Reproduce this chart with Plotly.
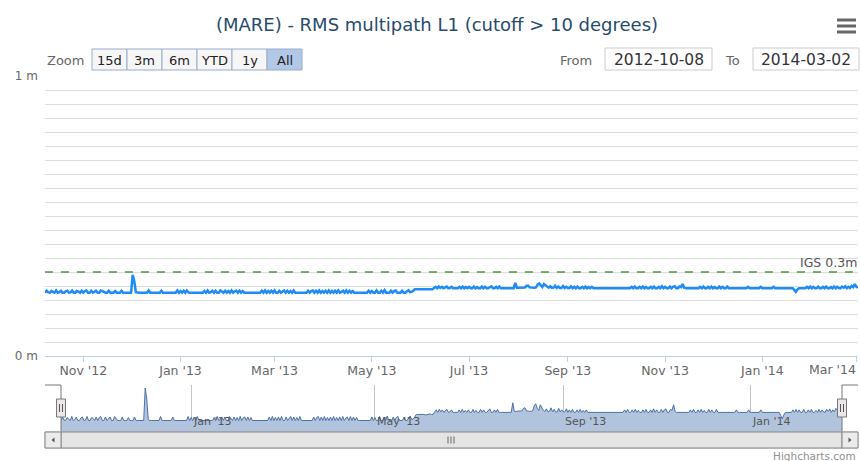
import pandas as pd
import plotly.graph_objects as go

# Daily RMS multipath on L1 for station MARE, in millimetres, one list per month
oct_2012 = [226, 233, 227, 226, 232, 229, 226, 234, 226, 228, 233, 226, 226, 231, 233, 226,
            227, 234, 226, 226, 232, 230, 226, 233]
nov_2012 = [226, 232, 234, 226, 226, 233, 226, 229, 233, 226, 226, 234, 231, 226, 226, 226,
            233, 226, 226, 226, 232, 226, 226, 226, 233, 226, 226, 226, 226, 226]
dec_2012 = [226, 290, 268, 228, 226, 226, 226, 226, 226, 226, 226, 234, 226, 226, 226, 226,
            226, 226, 226, 233, 226, 226, 226, 226, 226, 226, 226, 226, 226, 234, 226]
jan_2013 = [232, 226, 233, 226, 234, 227, 226, 226, 226, 226, 226, 226, 226, 226, 226, 232,
            226, 234, 226, 228, 233, 226, 233, 226, 226, 234, 229, 226, 233, 226, 232]
feb_2013 = [226, 234, 226, 231, 233, 226, 233, 226, 232, 226, 226, 226, 226, 226, 226, 226,
            226, 226, 226, 226, 233, 226, 234, 226, 232, 226, 233, 226]
mar_2013 = [234, 226, 226, 233, 226, 231, 234, 226, 233, 226, 232, 226, 234, 226, 226, 226,
            226, 226, 226, 226, 226, 233, 226, 232, 234, 226, 233, 226, 234, 226, 232]
apr_2013 = [226, 233, 226, 234, 226, 232, 226, 233, 226, 234, 226, 231, 233, 226, 234, 226,
            233, 226, 232, 226, 226, 226, 226, 226, 226, 226, 226, 226, 233, 226]
may_2013 = [232, 226, 226, 234, 226, 226, 233, 226, 235, 226, 226, 226, 233, 226, 232, 234,
            226, 226, 226, 233, 226, 226, 231, 235, 228, 229, 233, 238, 238, 238, 239]
jun_2013 = [238, 238, 237, 238, 238, 239, 238, 238, 243, 247, 242, 248, 243, 247, 242, 246,
            248, 242, 243, 247, 242, 242, 242, 242, 247, 242, 248, 242, 246, 242]
jul_2013 = [247, 242, 242, 248, 242, 246, 242, 242, 248, 242, 247, 242, 242, 246, 249, 242,
            242, 247, 242, 248, 242, 242, 242, 242, 242, 242, 242, 242, 242, 261, 244]
aug_2013 = [244, 244, 244, 244, 245, 250, 251, 245, 244, 244, 244, 245, 255, 259, 250, 246,
            257, 252, 246, 244, 249, 243, 244, 251, 243, 248, 243, 243, 250, 243, 247]
sep_2013 = [243, 243, 249, 242, 247, 242, 248, 242, 242, 247, 242, 248, 242, 246, 242, 247,
            242, 242, 242, 242, 242, 242, 242, 242, 242, 242, 242, 242, 242, 242]
oct_2013 = [242, 242, 242, 242, 242, 242, 242, 242, 242, 242, 247, 242, 248, 242, 242, 247,
            242, 248, 242, 246, 242, 242, 247, 242, 248, 242, 242, 247, 242, 249, 242]
nov_2013 = [247, 242, 242, 248, 242, 247, 249, 242, 242, 248, 246, 257, 244, 242, 242, 242,
            242, 242, 242, 242, 242, 242, 247, 242, 248, 242, 242, 247, 242, 248]
dec_2013 = [242, 246, 242, 242, 248, 242, 247, 242, 242, 248, 242, 242, 242, 242, 242, 242,
            242, 242, 242, 242, 242, 242, 247, 242, 242, 242, 242, 242, 242, 242, 247]
jan_2014 = [242, 242, 242, 242, 242, 242, 242, 247, 242, 242, 242, 242, 242, 242, 242, 242,
            242, 242, 242, 242, 236, 229, 237, 242, 242, 242, 242, 242, 247, 242, 248]
feb_2014 = [242, 247, 242, 242, 248, 242, 242, 247, 242, 248, 242, 242, 246, 242, 248, 242,
            247, 243, 242, 248, 244, 249, 242, 247, 243, 250, 246, 257]
mar_2014 = [247, 244]

first_day = "2012-10-08"
window_start = "2012-10-08"
window_end = "2014-03-02"
igs_limit = 0.3

tick_dates = ["2012-11-01", "2013-01-01", "2013-03-01", "2013-05-01", "2013-07-01",
              "2013-09-01", "2013-11-01", "2014-01-01", "2014-03-01"]
tick_labels = ["Nov '12", "Jan '13", "Mar '13", "May '13", "Jul '13",
               "Sep '13", "Nov '13", "Jan '14", "Mar '14"]
nav_tick_dates = ["2013-01-01", "2013-05-01", "2013-09-01", "2014-01-01"]
nav_tick_labels = ["Jan '13", "May '13", "Sep '13", "Jan '14"]
zoom_buttons = ["15d", "3m", "6m", "YTD", "1y", "All"]

rms_mm = (oct_2012 + nov_2012 + dec_2012 + jan_2013 + feb_2013 + mar_2013 + apr_2013
          + may_2013 + jun_2013 + jul_2013 + aug_2013 + sep_2013 + oct_2013 + nov_2013
          + dec_2013 + jan_2014 + feb_2014 + mar_2014)
rms_m = [v / 1000 for v in rms_mm]
dates = pd.date_range(first_day, periods=len(rms_m), freq="D")

W, H = 860, 461
FONT = "DejaVu Sans"
AXIS_FONT = dict(family=FONT, size=12.5, color="#666")


def fx(px):
    return px / W


def fy(py):
    return 1 - py / H


fig = go.Figure()

# main series
fig.add_trace(go.Scatter(x=dates, y=rms_m, mode="lines", xaxis="x", yaxis="y",
                         line=dict(color="#1e8cf8", width=2.5), hoverinfo="skip"))
# IGS reference level
fig.add_trace(go.Scatter(x=[window_start, window_end], y=[igs_limit, igs_limit], mode="lines",
                         xaxis="x", yaxis="y", line=dict(color="#4a9e3c", width=1.5, dash="8px,8px"),
                         hoverinfo="skip"))
# navigator series
fig.add_trace(go.Scatter(x=dates, y=rms_m, mode="lines", xaxis="x2", yaxis="y2",
                         fill="tozeroy", fillcolor="#b2c4dd",
                         line=dict(color="#4a72a8", width=1), hoverinfo="skip"))

shapes = []
annotations = []

# the last tick label sits flush with the right edge instead of centred on its tick
axis_text = tick_labels[:-1] + [""]
annotations.append(dict(text=tick_labels[-1], x=fx(858), y=fy(369.5), xref="paper",
                        yref="paper", xanchor="right", yanchor="middle", showarrow=False,
                        font=AXIS_FONT))

# range selector
annotations.append(dict(text="Zoom", x=fx(45), y=fy(60), xref="paper", yref="paper",
                        xanchor="left", yanchor="middle", showarrow=False,
                        font=dict(family=FONT, size=13, color="#666")))
edges = [92, 127, 162, 197, 232, 267, 302]
for i, lab in enumerate(zoom_buttons):
    selected = lab == "All"
    shapes.append(dict(type="rect", xref="paper", yref="paper",
                       x0=fx(edges[i]), x1=fx(edges[i + 1]), y0=fy(70), y1=fy(49),
                       fillcolor="#b3c7e6" if selected else "#f6f6f6",
                       line=dict(color="#98adc9", width=1), layer="above"))
    annotations.append(dict(text=lab, x=fx((edges[i] + edges[i + 1]) / 2), y=fy(60),
                            xref="paper", yref="paper", xanchor="center", yanchor="middle",
                            showarrow=False, font=dict(family=FONT, size=13, color="#222")))

# date inputs
for lab, lx, bx0, bx1, val in [("From", 594, 605, 712, window_start),
                               ("To", 742, 753, 859, window_end)]:
    annotations.append(dict(text=lab, x=fx(lx), y=fy(60), xref="paper", yref="paper",
                            xanchor="right", yanchor="middle", showarrow=False,
                            font=dict(family=FONT, size=13, color="#666")))
    shapes.append(dict(type="rect", xref="paper", yref="paper", x0=fx(bx0), x1=fx(bx1),
                       y0=fy(70), y1=fy(48), fillcolor="white",
                       line=dict(color="#cccccc", width=1)))
    annotations.append(dict(text=val, x=fx((bx0 + bx1) / 2), y=fy(59.5), xref="paper",
                            yref="paper", xanchor="center", yanchor="middle", showarrow=False,
                            font=dict(family=FONT, size=15.5, color="#333")))

# export menu icon
for y0 in [18.5, 24.5, 30.5]:
    shapes.append(dict(type="rect", xref="paper", yref="paper", x0=fx(837), x1=fx(856),
                       y0=fy(y0 + 3), y1=fy(y0), fillcolor="#666", line=dict(width=0)))

# IGS label
annotations.append(dict(text="IGS 0.3m", x=fx(859), y=fy(262.5), xref="paper", yref="paper",
                        xanchor="right", yanchor="middle", showarrow=False,
                        font=dict(family=FONT, size=12.5, color="#555")))

# navigator labels
for d, lab in zip(nav_tick_dates, nav_tick_labels):
    annotations.append(dict(text=lab, x=d, xref="x2", y=fy(421.5), yref="paper",
                            xanchor="left", yanchor="middle", xshift=0, showarrow=False,
                            font=dict(family=FONT, size=11, color="#555")))

# navigator outline and handles
shapes.append(dict(type="path", xref="paper", yref="paper",
                   path=f"M{fx(45)},{fy(385)} L{fx(61)},{fy(385)} L{fx(61)},{fy(432)}",
                   line=dict(color="#777", width=1)))
shapes.append(dict(type="path", xref="paper", yref="paper",
                   path=f"M{fx(842)},{fy(432)} L{fx(842)},{fy(385)} L{fx(858)},{fy(385)}",
                   line=dict(color="#777", width=1)))
for cx in [61, 842]:
    shapes.append(dict(type="rect", xref="paper", yref="paper", x0=fx(cx - 4.5), x1=fx(cx + 4.5),
                       y0=fy(417), y1=fy(399), fillcolor="#ebe7e8",
                       line=dict(color="#777", width=1), layer="above"))
    for dx in [-1.5, 1.5]:
        shapes.append(dict(type="line", xref="paper", yref="paper", x0=fx(cx + dx), x1=fx(cx + dx),
                           y0=fy(412), y1=fy(404), line=dict(color="#555", width=1),
                           layer="above"))

# scrollbar
shapes.append(dict(type="rect", xref="paper", yref="paper", x0=fx(45), x1=fx(858),
                   y0=fy(448), y1=fy(432), fillcolor="#eeeeee", line=dict(color="#bbbbbb", width=1)))
shapes.append(dict(type="rect", xref="paper", yref="paper", x0=fx(61), x1=fx(842),
                   y0=fy(448), y1=fy(432), fillcolor="#e4e4e4", line=dict(color="#888", width=1)))
for bx0, bx1 in [(45, 61), (842, 858)]:
    shapes.append(dict(type="rect", xref="paper", yref="paper", x0=fx(bx0), x1=fx(bx1),
                       y0=fy(448), y1=fy(432), fillcolor="#ebebeb", line=dict(color="#888", width=1)))
shapes.append(dict(type="path", xref="paper", yref="paper",
                   path=f"M{fx(51.5)},{fy(440)} L{fx(54.5)},{fy(437.5)} L{fx(54.5)},{fy(442.5)} Z",
                   fillcolor="#555", line=dict(width=0)))
shapes.append(dict(type="path", xref="paper", yref="paper",
                   path=f"M{fx(851.5)},{fy(440)} L{fx(848.5)},{fy(437.5)} L{fx(848.5)},{fy(442.5)} Z",
                   fillcolor="#555", line=dict(width=0)))
for gx in [448, 451, 454]:
    shapes.append(dict(type="line", xref="paper", yref="paper", x0=fx(gx), x1=fx(gx),
                       y0=fy(443.5), y1=fy(436.5), line=dict(color="#666", width=1)))

# credits
annotations.append(dict(text="Highcharts.com", x=fx(858), y=fy(455.5), xref="paper", yref="paper",
                        xanchor="right", yanchor="middle", showarrow=False,
                        font=dict(family=FONT, size=10.5, color="#909090")))

fig.update_layout(
    width=W, height=H,
    margin=dict(l=0, r=0, t=0, b=0, autoexpand=False),
    paper_bgcolor="white", plot_bgcolor="white",
    showlegend=False,
    font=dict(family=FONT),
    title=dict(text="(MARE) - RMS multipath L1 (cutoff > 10 degrees)",
               x=fx(437), xanchor="center", y=fy(24.5), yanchor="middle",
               font=dict(family=FONT, size=18, color="#274b6d")),
    xaxis=dict(domain=[fx(45), fx(858)], range=[window_start, window_end], type="date",
               tickmode="array", tickvals=tick_dates, ticktext=axis_text,
               ticks="outside", ticklen=5, tickcolor="#C0D0E0", showline=True,
               linecolor="#C0D0E0", linewidth=1, showgrid=False, zeroline=False,
               ticklabelstandoff=-2,
               tickfont=AXIS_FONT, anchor="y", fixedrange=True),
    yaxis=dict(domain=[fy(356), fy(76)], range=[0, 1], tickmode="array",
               tickvals=[0, 1], ticktext=["0 m", "1 m"], showgrid=True, gridcolor="#dddddd",
               minor=dict(tickmode="linear", tick0=0, dtick=0.05, showgrid=True,
                          gridcolor="#dddddd", gridwidth=1),
               zeroline=False, showline=False, ticks="", ticklabelstandoff=6,
               tickfont=dict(family=FONT, size=12, color="#666"), anchor="x", fixedrange=True),
    xaxis2=dict(domain=[fx(61), fx(842)], range=[dates[0], dates[-1]], type="date",
                tickmode="array", tickvals=nav_tick_dates, showticklabels=False,
                showgrid=True, gridcolor="#c4c4c4", ticks="", showline=False,
                zeroline=False, anchor="y2", fixedrange=True),
    yaxis2=dict(domain=[fy(432), fy(385)], range=[0.2034, 0.296], showgrid=False,
                showticklabels=False, zeroline=False, ticks="", anchor="x2", fixedrange=True),
    shapes=shapes,
    annotations=annotations,
)

fig.write_html("out.html", config={"displayModeBar": False})
